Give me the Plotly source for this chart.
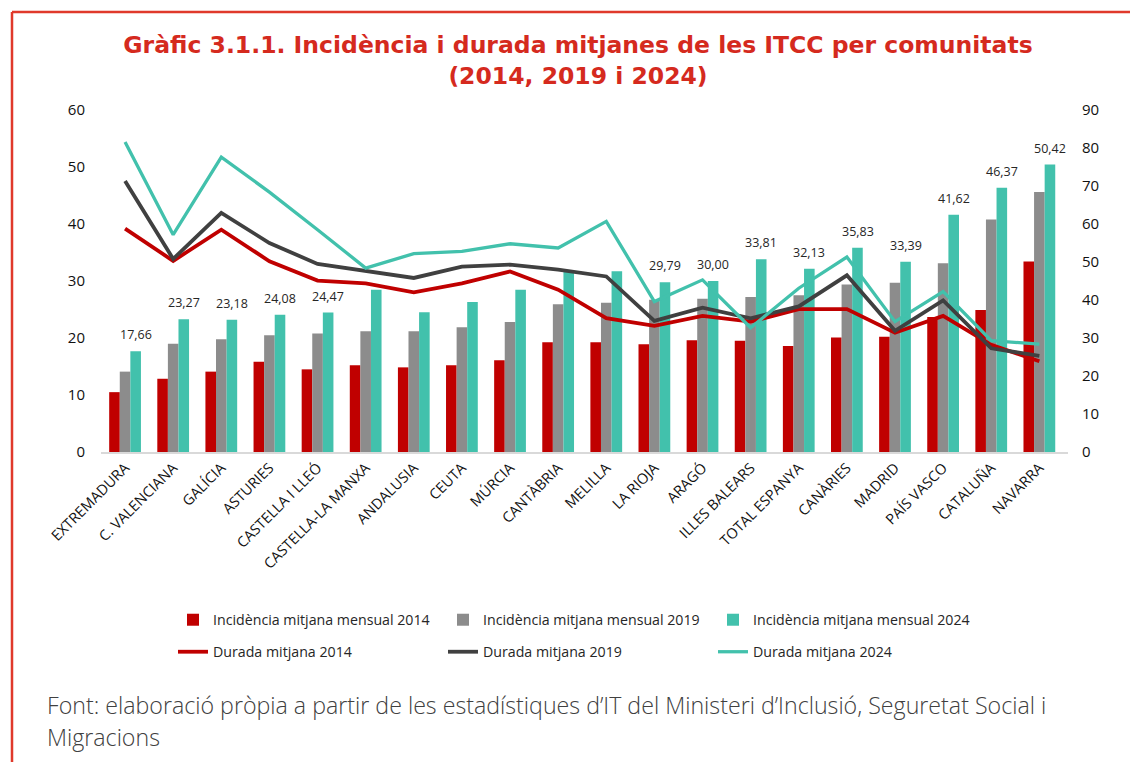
import plotly.graph_objects as go

categories = ["EXTREMADURA", "C. VALENCIANA", "GALÍCIA", "ASTURIES", "CASTELLA I LLEÓ",
              "CASTELLA-LA MANXA", "ANDALUSIA", "CEUTA", "MÚRCIA", "CANTÀBRIA", "MELILLA",
              "LA RIOJA", "ARAGÓ", "ILLES BALEARS", "TOTAL ESPANYA", "CANÀRIES", "MADRID",
              "PAÍS VASCO", "CATALUÑA", "NAVARRA"]

inc_2014 = [10.5, 12.85, 14.1, 15.85, 14.5, 15.2, 14.85, 15.2, 16.1, 19.25, 19.25,
            18.9, 19.6, 19.5, 18.6, 20.1, 20.2, 23.7, 24.9, 33.4]
inc_2019 = [14.1, 19.0, 19.8, 20.5, 20.8, 21.2, 21.2, 21.9, 22.8, 25.9, 26.2,
            26.7, 26.9, 27.2, 27.5, 29.4, 29.7, 33.1, 40.8, 45.6]
inc_2024 = [17.66, 23.27, 23.18, 24.08, 24.47, 28.45, 24.5, 26.3, 28.45, 31.6, 31.7,
            29.79, 30.00, 33.81, 32.13, 35.83, 33.39, 41.62, 46.37, 50.42]

dur_2014 = [58.8, 50.3, 58.5, 50.2, 45.1, 44.4, 42.0, 44.4, 47.5, 42.7, 35.2,
            33.2, 35.8, 34.3, 37.6, 37.6, 31.4, 35.8, 28.2, 23.9]
dur_2019 = [71.3, 50.8, 62.9, 55.0, 49.5, 47.7, 45.8, 48.8, 49.3, 48.0, 46.2,
            34.5, 38.0, 35.2, 38.3, 46.5, 31.9, 39.9, 27.3, 25.3]
dur_2024 = [81.6, 57.2, 77.6, 68.4, 58.5, 48.4, 52.2, 52.8, 54.8, 53.7, 60.7,
            39.6, 45.3, 32.7, 43.1, 51.3, 34.3, 42.2, 29.3, 28.4]

labelled = ["EXTREMADURA", "C. VALENCIANA", "GALÍCIA", "ASTURIES", "CASTELLA I LLEÓ",
            "LA RIOJA", "ARAGÓ", "ILLES BALEARS", "TOTAL ESPANYA", "CANÀRIES", "MADRID",
            "PAÍS VASCO", "CATALUÑA", "NAVARRA"]

y_left_ticks = [0, 10, 20, 30, 40, 50, 60]
y_right_ticks = [0, 10, 20, 30, 40, 50, 60, 70, 80, 90]

source_lines = ["Font: elaboració pròpia a partir de les estadístiques d’IT del Ministeri d’Inclusió, Seguretat Social i",
                "Migracions"]

RED = "#C00000"
GREY = "#8C8C8C"
TEAL = "#42C1AC"
DARK = "#404040"

W, H = 1138, 762
OFF = 8  # page body margin offset
# plot area in page pixels: left 101, right 1068, top 110, bottom 452
ML, MT = 101 - OFF, 110 - OFF
MR = W - (1068 - OFF)
MB = H - (452 - OFF)
PW, PH = W - ML - MR, H - MT - MB
BARGAP = 0.34

def px_x(p):
    return (p - OFF - ML) / PW

def px_y(p):
    return (H - MB - (p - OFF)) / PH

fig = go.Figure()
fig.add_trace(go.Bar(x=categories, y=inc_2014, name="Incidència mitjana mensual 2014",
                     marker=dict(color=RED, line=dict(width=0)), legend="legend"))
fig.add_trace(go.Bar(x=categories, y=inc_2019, name="Incidència mitjana mensual 2019",
                     marker=dict(color=GREY, line=dict(width=0)), legend="legend"))
fig.add_trace(go.Bar(x=categories, y=inc_2024, name="Incidència mitjana mensual 2024",
                     marker=dict(color=TEAL, line=dict(width=0)), legend="legend"))

fig.add_trace(go.Scatter(x=categories, y=dur_2014, name="Durada mitjana 2014", mode="lines",
                         line=dict(color=RED, width=3.8), yaxis="y2", legend="legend2"))
fig.add_trace(go.Scatter(x=categories, y=dur_2019, name="Durada mitjana 2019", mode="lines",
                         line=dict(color=DARK, width=3.8), yaxis="y2", legend="legend2"))
fig.add_trace(go.Scatter(x=categories, y=dur_2024, name="Durada mitjana 2024", mode="lines",
                         line=dict(color=TEAL, width=3.3), yaxis="y2", legend="legend2"))

# value labels above the 2024 bars
slot = PW / len(categories)
teal_shift = slot * (1 - BARGAP) / 3
annotations = []
for c, v in zip(categories, inc_2024):
    if c in labelled:
        annotations.append(dict(x=c, y=v, xref="x", yref="y", text=f"{v:.2f}".replace(".", ","),
                                showarrow=False, yanchor="bottom", yshift=6, xshift=teal_shift,
                                font=dict(family="Open Sans", size=12.5, color="#262626")))

for line_text, ypix in zip(source_lines, [705, 737]):
    annotations.append(dict(x=px_x(45), y=px_y(ypix), xref="paper", yref="paper", xanchor="left",
                            yanchor="middle", align="left", showarrow=False, text=line_text,
                            font=dict(family="Open Sans", size=23.2, color="#404040", weight=300)))

shapes = [
    dict(type="line", xref="paper", yref="paper", x0=px_x(12), x1=px_x(W + 20), y0=px_y(12), y1=px_y(12),
         line=dict(color="#E0392B", width=2.5)),
    dict(type="line", xref="paper", yref="paper", x0=px_x(12), x1=px_x(12), y0=px_y(12), y1=px_y(H + 20),
         line=dict(color="#E0392B", width=2.5)),
]

legend_common = dict(orientation="h", xanchor="left", yanchor="middle", entrywidth=225,
                     font=dict(family="Open Sans", size=14.2, color="#262626"),
                     bgcolor="rgba(0,0,0,0)", itemclick=False)

fig.update_layout(
    width=W, height=H,
    margin=dict(l=ML, r=MR, t=MT, b=MB, autoexpand=False),
    paper_bgcolor="white", plot_bgcolor="white",
    barmode="group", bargap=BARGAP, bargroupgap=0,
    title=dict(text="Gràfic 3.1.1. Incidència i durada mitjanes de les ITCC per comunitats<br>(2014, 2019 i 2024)",
               x=(578 - OFF) / W, xanchor="center", y=1 - 45 / H, yanchor="top",
               font=dict(family="DejaVu Sans", size=23.5, color="#D52A1E", weight=700)),
    xaxis=dict(tickangle=-45, tickfont=dict(family="Open Sans", size=14.5, color="#111111"),
               showgrid=False, showline=True, linecolor="#D9D9D9", linewidth=1.5, ticks=""),
    yaxis=dict(range=[0, 60], tickvals=y_left_ticks, showgrid=False, zeroline=False,
               tickfont=dict(family="Open Sans", size=15, color="#111111"), ticklabelstandoff=15),
    yaxis2=dict(range=[0, 90], tickvals=y_right_ticks, overlaying="y", side="right",
                showgrid=False, zeroline=False,
                tickfont=dict(family="Open Sans", size=15, color="#111111"), ticklabelstandoff=13),
    legend=dict(x=px_x(173), y=px_y(620), **legend_common),
    legend2=dict(x=px_x(173), y=px_y(652), **legend_common),
    annotations=annotations,
    shapes=shapes,
)

fig.write_html("out.html")
